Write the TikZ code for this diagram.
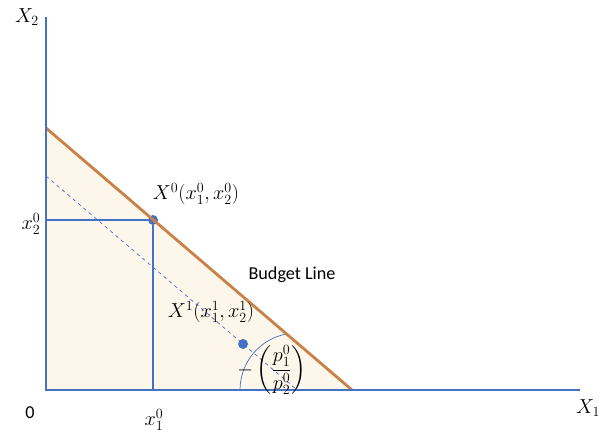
\documentclass[tikz,border=0pt]{standalone}
\usepackage{amsmath}
\usepackage{fontspec}
\newfontfamily\calibri{Carlito}
\usetikzlibrary{calc}
\definecolor{axisblue}{RGB}{68,114,196}
\definecolor{budget}{RGB}{200,130,72}
\definecolor{cream}{RGB}{253,246,234}

\begin{document}
\begin{tikzpicture}[x=0.03cm, y=0.03cm, axis/.style={draw=axisblue, line width=2pt}, guide/.style={draw=axisblue, line width=1.1pt}, dot/.style={circle, fill=axisblue, inner sep=0pt, minimum size=8.5pt}, lbl/.style={font=\LARGE, inner sep=1pt}, txt/.style={font=\fontsize{15.5}{18}\selectfont\calibri, inner sep=1pt}]
\useasboundingbox (-46,-43) rectangle (553,390);
\coordinate (O) at (0,0);
\coordinate (top) at (0,373);
\coordinate (right) at (534,0);
\coordinate (bA) at (0,262);
\coordinate (bB) at (306,0);
\coordinate (dA) at (0,214);
\coordinate (dB) at (251,0);
% shaded budget set
\fill[cream] (O) -- (bA) -- (bB) -- cycle;
% dashed parallel line and angle
\draw[axisblue, dashed, line width=0.6pt] (dA) -- (dB);
\draw[axisblue, line width=0.6pt] ($(dB)+(-57,0)$) arc[start angle=180, end angle=100, radius=57];
% bundle X^0
\node[dot] (x0) at (107,170) {};
\coordinate (x0y) at (0,170);
\coordinate (x0x) at (107,0);
\draw[guide] (x0y) -- (x0) -- (x0x);
\node[dot] (x1) at ($(dA)!0.785!(dB)$) {};
% budget line and axes
\draw[budget, line width=2.4pt] (bA) -- (bB);
\draw[axis] (top) -- (O) -- (right);
% labels
\node[lbl] (lX2) at (-19,373) {$X_2$};
\node[lbl] (lX1) at (542,-18) {$X_1$};
\node[lbl] (lx20) at (-15,166) {$x_2^0$};
\node[txt] (lO) at (-16,-23) {0};
\node[lbl] (lx10) at (108,-30) {$x_1^0$};
\node[lbl] (lX0) at (150,196) {$X^0(x_1^0,x_2^0)$};
\node[txt] (lBL) at (246,115) {Budget Line};
\node[lbl] (lX1b) at (165,78) {$X^1(x_1^1,x_2^1)$};
\node[lbl] (lslope) at (226,20) {$-\left(\dfrac{p_1^0}{p_2^0}\right)$};
\end{tikzpicture}
\end{document}
